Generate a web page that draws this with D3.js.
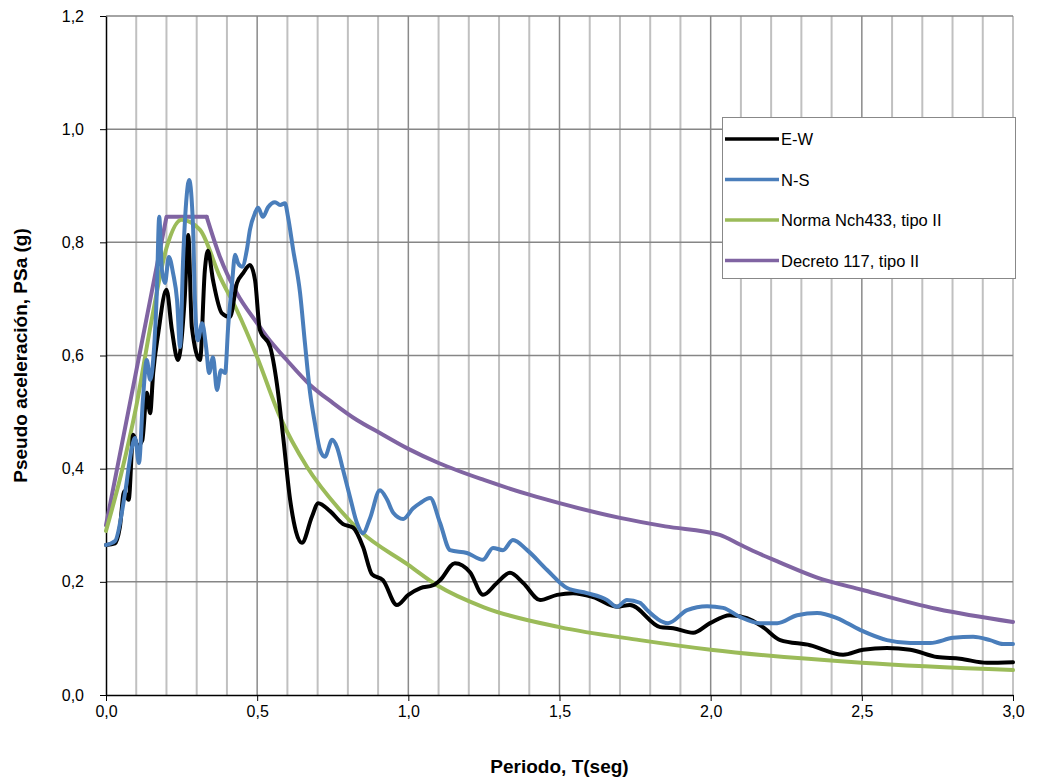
<!DOCTYPE html>
<html><head><meta charset="utf-8">
<script src="https://cdn.jsdelivr.net/npm/d3@7"></script>
<style>body{margin:0;background:#fff}svg{display:block}text{font-family:"Liberation Sans",Arial,sans-serif}</style>
</head><body><svg id="c" width="1037" height="784"></svg>
<script>
// ---- data ----
const tEW = [0,0.03,0.046,0.06,0.075,0.09,0.105,0.12,0.135,0.146,0.156,0.173,0.20,0.218,0.238,0.26,0.272,0.284,0.311,0.327,0.337,0.354,0.383,0.41,0.433,0.453,0.476,0.493,0.509,0.543,0.565,0.586,0.609,0.648,0.681,0.702,0.741,0.784,0.817,0.85,0.88,0.916,0.962,1.0,1.04,1.082,1.105,1.154,1.204,1.247,1.293,1.336,1.38,1.436,1.492,1.545,1.611,1.69,1.733,1.833,1.876,1.942,1.998,2.064,2.12,2.173,2.23,2.329,2.438,2.504,2.583,2.66,2.749,2.825,2.914,3.0];
const saEW = [0.265,0.268,0.297,0.36,0.345,0.46,0.44,0.45,0.534,0.498,0.569,0.64,0.716,0.645,0.592,0.698,0.813,0.65,0.592,0.751,0.785,0.733,0.675,0.668,0.728,0.745,0.76,0.733,0.645,0.615,0.551,0.456,0.345,0.269,0.315,0.339,0.325,0.302,0.296,0.262,0.213,0.203,0.159,0.177,0.189,0.194,0.203,0.233,0.217,0.177,0.198,0.216,0.198,0.168,0.177,0.18,0.173,0.156,0.159,0.12,0.118,0.11,0.127,0.141,0.136,0.12,0.097,0.088,0.071,0.08,0.083,0.08,0.067,0.064,0.057,0.058];
const tNS = [0,0.03,0.063,0.086,0.096,0.109,0.122,0.135,0.146,0.156,0.168,0.176,0.185,0.195,0.208,0.222,0.235,0.245,0.255,0.265,0.275,0.288,0.294,0.304,0.318,0.331,0.341,0.354,0.367,0.38,0.394,0.404,0.417,0.427,0.437,0.45,0.466,0.476,0.493,0.503,0.519,0.536,0.559,0.576,0.592,0.602,0.619,0.642,0.658,0.675,0.691,0.708,0.724,0.748,0.764,0.784,0.807,0.83,0.85,0.873,0.906,0.93,0.95,0.983,1.016,1.039,1.072,1.105,1.138,1.194,1.247,1.28,1.313,1.346,1.393,1.459,1.525,1.591,1.657,1.69,1.723,1.766,1.79,1.859,1.922,1.988,2.041,2.097,2.163,2.22,2.286,2.352,2.418,2.494,2.583,2.66,2.726,2.802,2.868,2.924,2.967,3.0];
const saNS = [0.265,0.272,0.357,0.438,0.454,0.41,0.521,0.592,0.557,0.592,0.71,0.845,0.751,0.728,0.774,0.745,0.698,0.615,0.769,0.87,0.91,0.827,0.698,0.627,0.657,0.615,0.569,0.597,0.539,0.574,0.569,0.65,0.728,0.778,0.763,0.757,0.787,0.822,0.852,0.861,0.845,0.862,0.871,0.866,0.869,0.845,0.787,0.71,0.622,0.534,0.48,0.433,0.421,0.451,0.438,0.398,0.35,0.304,0.286,0.312,0.362,0.345,0.322,0.311,0.33,0.339,0.348,0.304,0.256,0.251,0.239,0.26,0.256,0.274,0.256,0.221,0.189,0.18,0.168,0.156,0.168,0.163,0.15,0.127,0.15,0.157,0.154,0.138,0.127,0.127,0.141,0.145,0.136,0.115,0.097,0.092,0.092,0.101,0.103,0.097,0.09,0.09];
const tNch = [0,0.05,0.1,0.15,0.2,0.25,0.311,0.377,0.433,0.5,0.576,0.665,0.774,0.84,1.0,1.095,1.25,1.5,1.766,2.0,2.5,3.0];
const saNch = [0.29,0.39,0.51,0.66,0.79,0.84,0.822,0.739,0.68,0.597,0.491,0.403,0.327,0.29,0.23,0.194,0.155,0.12,0.097,0.08,0.057,0.044];
const tDec = [0,0.2,0.333,0.377,0.433,0.5,0.532,0.598,0.675,0.751,0.83,0.906,1.0,1.1,1.25,1.4,1.5,1.7,1.85,2.03,2.1,2.16,2.23,2.35,2.5,2.75,3.0];
const saDec = [0.30,0.845,0.845,0.774,0.71,0.657,0.633,0.592,0.548,0.516,0.486,0.463,0.435,0.41,0.38,0.354,0.339,0.313,0.298,0.283,0.265,0.25,0.234,0.208,0.186,0.152,0.129];
const seriesNames = ["E-W","N-S","Norma Nch433, tipo II","Decreto 117, tipo II"];
const seriesColors = ["#000000","#4A7EBB","#9BBB59","#8064A2"];
const xTicks = [0,0.5,1.0,1.5,2.0,2.5,3.0];
const yTicks = [0,0.2,0.4,0.6,0.8,1.0,1.2];
const xTitle = "Periodo, T(seg)";
const yTitle = "Pseudo aceleración, PSa (g)";

// ---- layout ----
const svg = d3.select("#c");
const L=106, R=1013, T=16, B=695;
const x = d3.scaleLinear().domain([0,3]).range([L,R]);
const y = d3.scaleLinear().domain([0,1.2]).range([B,T]);
const fmt = d => d3.format(".1f")(d).replace(".",",");

// minor vertical gridlines
const minor = d3.range(1,31).map(i=>i/10).filter(v=>Math.abs(v*2-Math.round(v*2))>1e-6);
svg.append("g").selectAll("line").data(minor).join("line")
  .attr("x1",d=>x(d)).attr("x2",d=>x(d)).attr("y1",T).attr("y2",B)
  .attr("stroke","#c0c0c0").attr("stroke-width",2);
// major vertical gridlines
svg.append("g").selectAll("line").data(xTicks.slice(1)).join("line")
  .attr("x1",d=>x(d)).attr("x2",d=>x(d)).attr("y1",T).attr("y2",B)
  .attr("stroke",(d)=>d===3?"#b0b0b0":"#8a8a8a").attr("stroke-width",1.5);
// horizontal gridlines
svg.append("g").selectAll("line").data(yTicks.slice(1)).join("line")
  .attr("x1",L).attr("x2",R).attr("y1",d=>y(d)).attr("y2",d=>y(d))
  .attr("stroke","#868686").attr("stroke-width",1.5);

// axes
const gx = svg.append("g").attr("transform",`translate(0,${B})`)
  .call(d3.axisBottom(x).tickValues(xTicks).tickFormat(fmt).tickSize(6).tickSizeOuter(0).tickPadding(5));
const gy = svg.append("g").attr("transform",`translate(${L},0)`)
  .call(d3.axisLeft(y).tickValues(yTicks).tickFormat(fmt).tickSize(6).tickSizeOuter(0).tickPadding(16));
[gx,gy].forEach(g=>{
  g.select(".domain").attr("stroke","#000").attr("stroke-width",1.5);
  g.selectAll(".tick line").attr("stroke","#000").attr("stroke-width",1);
  g.selectAll("text").attr("font-size",16).attr("fill","#000").attr("font-family","'Liberation Sans',Arial,sans-serif");
});

// series
const mk = (ts,ss)=>ts.map((t,i)=>[t,ss[i]]);
const lineOf = c => d3.line().x(d=>x(d[0])).y(d=>y(d[1])).curve(c);
const decPts = mk(tDec,saDec);
const pieces = [
  {d:decPts.slice(0,3), c:d3.curveLinear, col:seriesColors[3]},
  {d:decPts.slice(2), c:d3.curveMonotoneX, col:seriesColors[3]},
  {d:mk(tNch,saNch), c:d3.curveMonotoneX, col:seriesColors[2]},
  {d:mk(tEW,saEW), c:d3.curveMonotoneX, col:seriesColors[0]},
  {d:mk(tNS,saNS), c:d3.curveMonotoneX, col:seriesColors[1]}
];
pieces.forEach(p=>{
  svg.append("path").datum(p.d).attr("d",lineOf(p.c))
    .attr("fill","none").attr("stroke",p.col).attr("stroke-width",4)
    .attr("stroke-linejoin","round").attr("stroke-linecap","round");
});

// axis titles
svg.append("text").attr("x",(L+R)/2).attr("y",773).attr("text-anchor","middle")
  .attr("font-size",19).attr("font-weight","bold").text(xTitle);
svg.append("text").attr("transform",`translate(27,${(T+B)/2}) rotate(-90)`).attr("text-anchor","middle")
  .attr("font-size",19).attr("font-weight","bold").text(yTitle);

// legend
const lg = svg.append("g");
lg.append("rect").attr("x",722.5).attr("y",117.5).attr("width",293).attr("height",161)
  .attr("fill","#fff").attr("stroke","#888").attr("stroke-width",1);
seriesNames.forEach((n,i)=>{
  const yy = 139 + i*40.5;
  lg.append("line").attr("x1",725).attr("x2",779).attr("y1",yy).attr("y2",yy)
    .attr("stroke",seriesColors[i]).attr("stroke-width",3.5);
  lg.append("text").attr("x",781).attr("y",yy+6).attr("font-size",16.5).attr("fill","#000").text(n);
});
</script></body></html>
